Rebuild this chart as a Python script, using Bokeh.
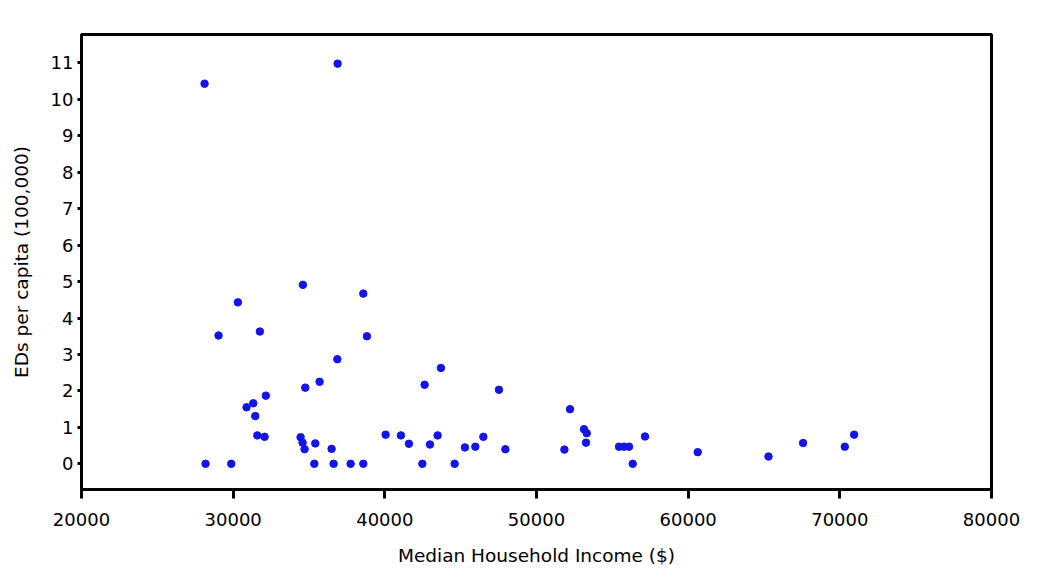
from bokeh.plotting import figure
from bokeh.embed import file_html
from bokeh.resources import INLINE
from bokeh.models import FixedTicker, Range1d

income = [28113, 36886, 28179, 29874, 29037, 30310, 31761, 34597, 38581, 38819,
          36866, 35698, 34755, 32157, 30883, 31325, 31457, 31589, 32071, 34445,
          34577, 34709, 35415, 35349, 36490, 36622, 37743, 38581, 40052, 41061,
          41589, 42473, 42974, 43482, 42624, 43699, 44603, 45282, 45968, 46496,
          47525, 47948, 51839, 52208, 53131, 53310, 53264, 55441, 55771, 56101,
          56344, 57156, 60631, 65295, 67577, 70327, 70941]
eds = [10.43, 10.98, 0.0, 0.0, 3.52, 4.43, 3.63, 4.91, 4.67, 3.50,
       2.87, 2.25, 2.09, 1.87, 1.55, 1.66, 1.31, 0.78, 0.74, 0.73,
       0.58, 0.40, 0.56, 0.0, 0.41, 0.0, 0.0, 0.0, 0.80, 0.78,
       0.55, 0.0, 0.53, 0.78, 2.17, 2.63, 0.0, 0.45, 0.47, 0.74,
       2.03, 0.40, 0.39, 1.50, 0.95, 0.84, 0.58, 0.47, 0.47, 0.47,
       0.0, 0.75, 0.32, 0.20, 0.57, 0.47, 0.80]

x_ticks = [20000, 30000, 40000, 50000, 60000, 70000, 80000]
y_ticks = list(range(0, 12))

FONT = "DejaVu Sans"

p = figure(width=1034, height=568, output_backend="svg", toolbar_location=None,
           x_range=Range1d(20000, 80000), y_range=Range1d(-0.705, 11.78),
           min_border_left=81, min_border_right=43, min_border_top=34, min_border_bottom=79)

p.scatter(income, eds, size=7.5, color="#1414e6", line_color="#1414e6")

p.grid.visible = False
p.outline_line_color = "black"
p.outline_line_width = 3
p.outline_line_alpha = 1
p.background_fill_color = "white"
p.border_fill_color = "white"

p.xaxis.ticker = FixedTicker(ticks=x_ticks)
p.yaxis.ticker = FixedTicker(ticks=y_ticks)
p.xaxis.axis_label = "Median Household Income ($)"
p.yaxis.axis_label = "EDs per capita (100,000)"

for ax in (p.xaxis[0], p.yaxis[0]):
    ax.axis_line_width = 3
    ax.axis_line_color = "black"
    ax.major_tick_line_width = 3
    ax.major_tick_line_color = "black"
    ax.major_tick_in = 0
    ax.minor_tick_line_color = None
    ax.major_label_text_font = FONT
    ax.major_label_text_font_size = "18px"
    ax.major_label_text_color = "black"
    ax.axis_label_text_font = FONT
    ax.axis_label_text_font_size = "18.5px"
    ax.axis_label_text_font_style = "normal"
    ax.axis_label_text_color = "black"

p.xaxis.major_tick_out = 9
p.xaxis.major_label_standoff = 14
p.xaxis.axis_label_standoff = 16
p.yaxis.major_tick_out = 4
p.yaxis.major_label_standoff = 4
p.yaxis.axis_label_standoff = 16

open("out.html", "w").write(file_html(p, INLINE))
